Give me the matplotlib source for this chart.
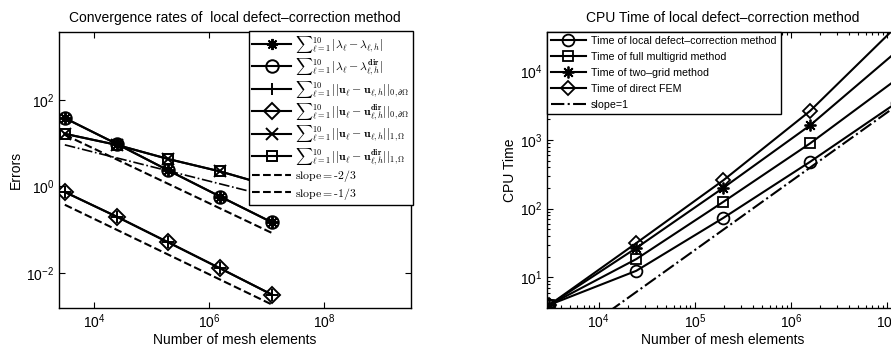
import matplotlib.pyplot as plt
from matplotlib.lines import Line2D
from matplotlib.ticker import LogLocator, NullLocator

plt.rcParams['font.family'] = ['Liberation Sans', 'DejaVu Sans']

# number of mesh elements (both panels)
n_elem = [3072, 24576, 196608, 1572864, 12582912]

# left panel: errors
err_lam = [37.8, 9.6, 2.33, 0.58, 0.147]
err_lam_dir = [37.8, 9.6, 2.33, 0.58, 0.147]
err_u0 = [0.74, 0.20, 0.0506, 0.0127, 0.00314]
err_u0_dir = [0.74, 0.20, 0.0506, 0.0127, 0.00314]
err_u1 = [16.4, 9.1, 4.27, 2.21, 1.0]
err_u1_dir = [16.4, 9.1, 4.27, 2.21, 1.0]

# reference slope lines (end points)
slope_x = [3072, 12582912]
slope23_hi = [15.5, 0.0835]
slope23_lo = [0.376, 0.00185]
slope13 = [9.1, 0.57]

# right panel: CPU time
t_ldc = [4.0, 12.5, 73, 478, 3470]
t_fmg = [4.0, 18.5, 125, 885, 7600]
t_tg = [4.0, 26.8, 200, 1620, 19300]
t_fem = [4.0, 31.6, 257, 2620, 45000]
slope1 = [0.77, 3150]

fig = plt.figure(figsize=(8.91, 3.49), dpi=100)

def style_axes(ax):
    ax.tick_params(which='both', direction='in', top=True, right=True,
                   labelsize=10, width=0.8)
    ax.tick_params(which='major', length=4)
    ax.tick_params(which='minor', length=2)
    for s in ax.spines.values():
        s.set_linewidth(1.0)

# ---------------- left panel ----------------
ax1 = fig.add_axes([0.0662, 0.1175, 0.395, 0.791])
ax1.set_xscale('log')
ax1.set_yscale('log')
kw = dict(color='k', lw=1.5, ms=8, mew=1.4, mfc='none')
l_star, = ax1.plot(n_elem, err_lam, marker=(8, 2, 0), **kw)
l_circ, = ax1.plot(n_elem, err_lam_dir, marker='o', **dict(kw, ms=9))
l_plus, = ax1.plot(n_elem, err_u0, marker='+', **dict(kw, ms=9))
l_diam, = ax1.plot(n_elem, err_u0_dir, marker='D', **dict(kw, ms=8))
l_x, = ax1.plot(n_elem, err_u1, marker='x', **kw)
l_sq, = ax1.plot(n_elem, err_u1_dir, marker='s', **dict(kw, ms=7.5))
ax1.plot(slope_x, slope23_hi, 'k--', lw=1.5)
ax1.plot(slope_x, slope23_lo, 'k--', lw=1.5)
ax1.plot(slope_x, slope13, 'k-.', lw=1.2)

ax1.set_xlim(2430, 3.3e9)
ax1.set_ylim(1.55e-3, 3.7e3)
ax1.set_xticks([1e4, 1e6, 1e8])
ax1.set_yticks([1e-2, 1, 1e2])
ax1.xaxis.set_minor_locator(NullLocator())
ax1.yaxis.set_minor_locator(NullLocator())
style_axes(ax1)
ax1.set_title('Convergence rates of  local defect\u2013correction method', fontsize=10, pad=7)
ax1.set_xlabel('Number of mesh elements', fontsize=10, labelpad=1)
ax1.set_ylabel('Errors', fontsize=10, labelpad=2)

dash1 = Line2D([], [], color='k', ls='--', lw=1.5)
dash2 = Line2D([], [], color='k', ls='--', lw=1.5)
labels1 = [
    r'${\sum}_{\ell=1}^{10}\,|\lambda_\ell-\lambda_{\ell,h}|$',
    r'${\sum}_{\ell=1}^{10}\,|\lambda_\ell-\lambda_{\ell,h}^{\mathbf{dir}}|$',
    r'${\sum}_{\ell=1}^{10}\,||\mathbf{u}_\ell-\mathbf{u}_{\ell,h}||_{0,\partial\Omega}$',
    r'${\sum}_{\ell=1}^{10}\,||\mathbf{u}_\ell-\mathbf{u}_{\ell,h}^{\mathbf{dir}}||_{0,\partial\Omega}$',
    r'${\sum}_{\ell=1}^{10}\,||\mathbf{u}_\ell-\mathbf{u}_{\ell,h}||_{1,\Omega}$',
    r'${\sum}_{\ell=1}^{10}\,||\mathbf{u}_\ell-\mathbf{u}_{\ell,h}^{\mathbf{dir}}||_{1,\Omega}$',
    r'$\mathrm{slope{=}{\text{-}}2/3}$',
    r'$\mathrm{slope{=}{\text{-}}1/3}$',
]
leg1 = ax1.legend([l_star, l_circ, l_plus, l_diam, l_x, l_sq, dash1, dash2], labels1,
                  loc='upper right', bbox_to_anchor=(1.005, 1.005),
                  prop=dict(size=8.5, math_fontfamily='cm'),
                  fancybox=False, edgecolor='k', framealpha=1,
                  handlelength=3.3, handletextpad=0.3, labelspacing=0.12,
                  borderpad=0.3, borderaxespad=0)
leg1.get_frame().set_linewidth(1.0)

# ---------------- right panel ----------------
ax2 = fig.add_axes([0.614, 0.1175, 0.394, 0.791])
ax2.set_xscale('log')
ax2.set_yscale('log')
kw2 = dict(color='k', lw=1.5, ms=8.5, mew=1.3, mfc='none')
r_circ, = ax2.plot(n_elem, t_ldc, marker='o', **kw2)
r_sq, = ax2.plot(n_elem, t_fmg, marker='s', **dict(kw2, ms=7))
r_star, = ax2.plot(n_elem, t_tg, marker=(8, 2, 0), **kw2)
r_diam, = ax2.plot(n_elem, t_fem, marker='D', **dict(kw2, ms=7.5))
r_slope, = ax2.plot(slope_x, slope1, 'k-.', lw=1.5)

ax2.set_xlim(2900, 1.3e7)
ax2.set_ylim(3.6, 3.7e4)
ax2.xaxis.set_major_locator(LogLocator(base=10, numticks=10))
ax2.xaxis.set_minor_locator(LogLocator(base=10, subs=range(2, 10), numticks=20))
ax2.yaxis.set_major_locator(LogLocator(base=10, numticks=10))
ax2.yaxis.set_minor_locator(LogLocator(base=10, subs=range(2, 10), numticks=20))
style_axes(ax2)
ax2.set_title('CPU Time of local defect\u2013correction method', fontsize=10, pad=7)
ax2.set_xlabel('Number of mesh elements', fontsize=10, labelpad=1)
ax2.set_ylabel('CPU Time', fontsize=10, labelpad=2)

leg2 = ax2.legend([r_circ, r_sq, r_star, r_diam, r_slope],
                  ['Time of local defect\u2013correction method',
                   'Time of full multigrid method',
                   'Time of two\u2013grid method',
                   'Time of direct FEM',
                   'slope=1'],
                  loc='upper left', bbox_to_anchor=(0.0, 1.0),
                  fontsize=7.7, fancybox=False, edgecolor='k', framealpha=1,
                  handlelength=3.2, handletextpad=0.5, labelspacing=0.55,
                  borderpad=0.4, borderaxespad=0)
leg2.get_frame().set_linewidth(1.0)

fig.savefig('out.png', dpi=100)
